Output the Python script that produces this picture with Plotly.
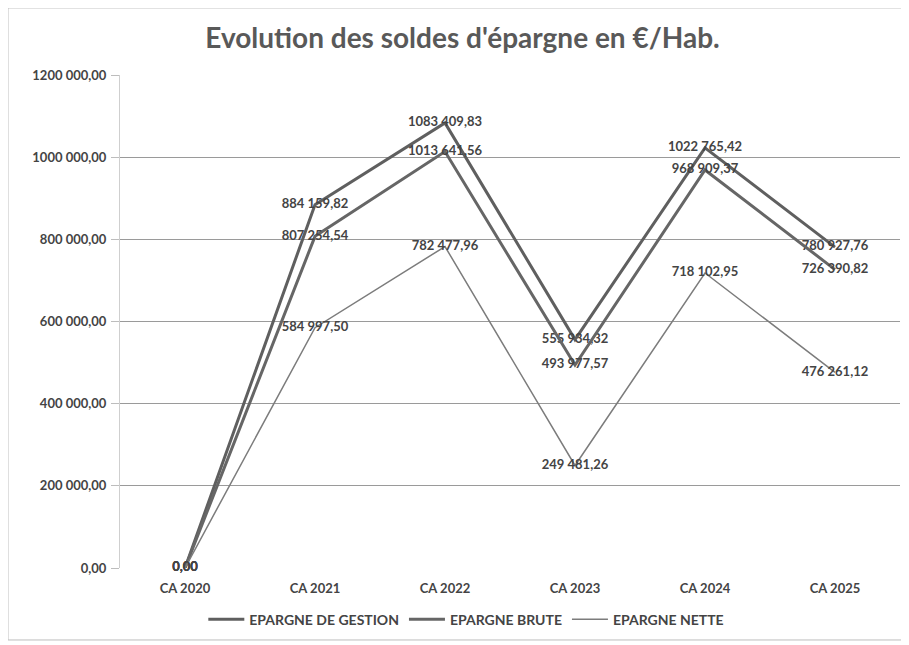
import plotly.graph_objects as go

categories = ["CA 2020", "CA 2021", "CA 2022", "CA 2023", "CA 2024", "CA 2025"]
epargne_gestion = [0.00, 884159.82, 1083409.83, 555934.32, 1022765.42, 780927.76]
epargne_brute = [0.00, 807254.54, 1013641.56, 493977.57, 968909.37, 726390.82]
epargne_nette = [0.00, 584997.50, 782477.96, 249481.26, 718102.95, 476261.12]
y_tick_values = [0, 200000, 400000, 600000, 800000, 1000000, 1200000]
y_tick_labels = ["0,00", "200 000,00", "400 000,00", "600 000,00", "800 000,00", "1000 000,00", "1200 000,00"]


def fr(v):
    s = f"{v:.2f}"
    ip, dp = s.split(".")
    if len(ip) > 3:
        ip = ip[:-3] + " " + ip[-3:]
    return ip + "," + dp


series = [
    ("EPARGNE DE GESTION", epargne_gestion, "#5f5f5f", 3),
    ("EPARGNE BRUTE", epargne_brute, "#666666", 3),
    ("EPARGNE NETTE", epargne_nette, "#7c7c7c", 1.5),
]

TXT = "#444444"
fig = go.Figure()
for name, vals, col, w in series:
    fig.add_trace(go.Scatter(
        x=categories, y=vals, name=name, mode="lines+text",
        line=dict(color=col, width=w),
        text=[fr(v) for v in vals], textposition="middle center",
        textfont=dict(family="Lato", size=13, color=TXT, weight="bold"),
        cliponaxis=False,
    ))

fig.update_layout(
    width=909, height=645,
    paper_bgcolor="white", plot_bgcolor="white",
    margin=dict(l=112, r=17, t=67, b=85),
    title=dict(text="<b>Evolution des soldes d'épargne en €/Hab.</b>", x=0.5, xanchor="center",
               y=0.953, yanchor="middle",
               font=dict(family="Lato", size=28, color="#595959")),
    font=dict(family="Lato", size=13, color=TXT),
    showlegend=True,
    legend=dict(orientation="h", x=0.444, xanchor="center", y=-0.105, yanchor="middle",
                font=dict(family="Lato", size=14, color=TXT, weight="bold"), itemwidth=36),
    xaxis=dict(type="category", range=[-0.5, 5.5], showgrid=False, zeroline=False,
               showline=False, ticks="", ticklabelstandoff=11,
               tickfont=dict(size=13, color=TXT, weight="bold")),
    yaxis=dict(range=[0, 1200000], tickvals=y_tick_values, ticktext=y_tick_labels,
               showgrid=True, gridcolor="#9a9a9a", gridwidth=1, zeroline=False,
               showline=True, linecolor="#cfcfcf", linewidth=1,
               ticks="outside", ticklen=8, tickcolor="#bdbdbd", ticklabelstandoff=2,
               tickfont=dict(size=13, color=TXT, weight="bold")),
    shapes=[dict(type="rect", xref="paper", yref="paper", x0=-0.1436, x1=1.0038, y0=-0.146, y1=1.136,
                 line=dict(color="#bdbdbd", width=1))],
)

fig.write_html("out.html")
